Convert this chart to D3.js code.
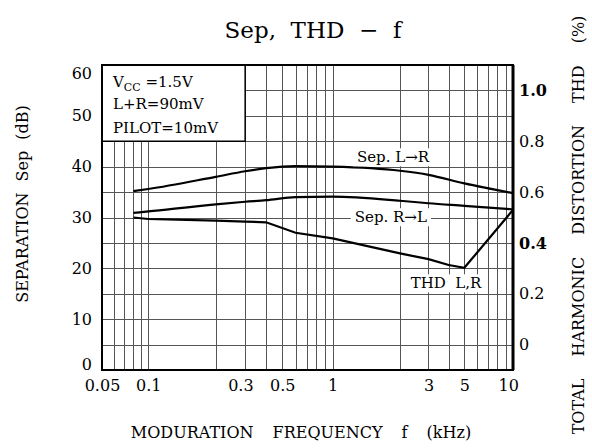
<!DOCTYPE html>
<html lang="en">
<head>
<meta charset="UTF-8">
<title>Sep, THD - f</title>
<script src="https://d3js.org/d3.v7.min.js"></script>
<style>
  body { margin: 0; background: #fff; }
  svg { display: block; font-family: "DejaVu Serif", serif; }
  .grid line { stroke: #555; stroke-width: 1; shape-rendering: crispEdges; }
  .grid path { display: none; }
  .curve { fill: none; stroke: #000; stroke-width: 2.2; }
  .axis path, .axis line { display: none; }
  .axis text { fill: #000; font-family: "DejaVu Serif", serif; font-size: 16px; }
</style>
</head>
<body>
<svg id="chart" width="592" height="448"></svg>
<script>
// modulation frequency, kHz
var sepFreq = [0.08, 0.1, 0.2, 0.3, 0.4, 0.6, 1, 2, 3, 5, 10];
// separation, dB
var sepLR = [35.2, 35.6, 38.0, 39.1, 39.7, 40.1, 40.0, 39.2, 38.4, 36.7, 34.8];
var sepRL = [30.9, 31.2, 32.6, 33.1, 33.4, 34.0, 34.1, 33.3, 32.8, 32.3, 31.6];
// THD, %
var thdFreq = [0.08, 0.1, 0.2, 0.3, 0.4, 0.6, 1, 2, 3, 4, 5, 10];
var thd = [0.50, 0.494, 0.488, 0.484, 0.481, 0.44, 0.418, 0.359, 0.336, 0.313, 0.302, 0.53];

var freqTicks = [0.05, 0.1, 0.3, 0.5, 1, 3, 5, 10];
var freqGrid = [0.06, 0.07, 0.08, 0.09, 0.1, 0.2, 0.3, 0.4, 0.5, 0.6, 0.7, 0.8, 0.9,
                1, 2, 3, 4, 5, 6, 7, 8, 9];
var sepTicks = [0, 10, 20, 30, 40, 50, 60];
var sepGrid = [5, 10, 15, 20, 25, 30, 35, 40, 45, 50, 55];
var thdTicks = [0, 0.2, 0.4, 0.6, 0.8, 1.0];

var curveLabels = [
  {text: "Sep. L\u2192R", f: 1.86, v: 41.9},
  {text: "Sep. R\u2192L", f: 1.82, v: 30.1},
  {text: "THD  L,R", f: 3.85, v: 17.1}
];

var margin = {top: 65, right: 79, bottom: 78, left: 102},
  width = 592 - margin.left - margin.right,
  height = 448 - margin.top - margin.bottom;

var svg = d3.select("#chart");

var g = svg.append("g")
  .attr("transform", "translate(" + margin.left + "," + margin.top + ")");

// the printed log paper is not evenly ruled, so the scale is piecewise
var x = d3.scaleLog()
  .domain([0.05, 0.1, 0.2, 1, 2, 10])
  .range([0, 0.1127, 0.2766, 0.5613, 0.7251, 1].map(function(p) { return p * width; }));

var y = d3.scaleLinear().domain([0, 60]).range([height, 0]);
// right axis: 0 % sits on 5 dB, 0.2 % per 10 dB
var yR = d3.scaleLinear().domain([-0.1, 1.1]).range([height, 0]);

// grid
g.append("g")
  .attr("class", "grid")
  .attr("transform", "translate(0," + height + ")")
  .call(d3.axisBottom(x).tickValues(freqGrid).tickSize(-height).tickFormat(""));

g.append("g")
  .attr("class", "grid")
  .call(d3.axisLeft(y).tickValues(sepGrid).tickSize(-width).tickFormat(""));

// conditions box (blank paper in the top left corner)
g.append("rect")
  .attr("x", x(0.05))
  .attr("y", y(60))
  .attr("width", x(0.3) - x(0.05))
  .attr("height", y(45) - y(60))
  .attr("fill", "#fff")
  .attr("stroke", "#000")
  .attr("stroke-width", 1.5);

var cond = g.append("text")
  .attr("x", 11)
  .attr("y", 22)
  .style("font-size", "15px");
cond.append("tspan").text("V");
cond.append("tspan").attr("dy", 4).style("font-size", "11px").text("CC");
cond.append("tspan").attr("dy", -4).text(" =1.5V");

g.append("text")
  .attr("x", 11).attr("y", 44)
  .style("font-size", "15px")
  .text("L+R=90mV");

g.append("text")
  .attr("x", 11).attr("y", 68)
  .style("font-size", "15px")
  .text("PILOT=10mV");

// curves
var sepLine = d3.line()
  .x(function(d) { return x(d[0]); })
  .y(function(d) { return y(d[1]); })
  .curve(d3.curveMonotoneX);

var thdLine = d3.line()
  .x(function(d) { return x(d[0]); })
  .y(function(d) { return yR(d[1]); });

g.append("path").attr("class", "curve").attr("d", sepLine(d3.zip(sepFreq, sepLR)));
g.append("path").attr("class", "curve").attr("d", sepLine(d3.zip(sepFreq, sepRL)));
g.append("path").attr("class", "curve").attr("d", thdLine(d3.zip(thdFreq, thd)));

// curve labels on white
curveLabels.forEach(function(d) {
  var lg = g.append("g");
  var t = lg.append("text")
    .attr("x", x(d.f))
    .attr("y", y(d.v))
    .attr("dy", "0.35em")
    .attr("text-anchor", "middle")
    .style("font-size", "15px")
    .style("white-space", "pre")
    .text(d.text);
  var b = t.node().getBBox();
  lg.insert("rect", "text")
    .attr("x", b.x - 4)
    .attr("y", b.y)
    .attr("width", b.width + 8)
    .attr("height", b.height)
    .attr("fill", "#fff");
});

// frame
g.append("rect")
  .attr("width", width)
  .attr("height", height)
  .attr("fill", "none")
  .attr("stroke", "#000")
  .attr("stroke-width", 2);
g.append("line")
  .attr("x1", width).attr("x2", width)
  .attr("y1", 0).attr("y2", height)
  .attr("stroke", "#000")
  .attr("stroke-width", 3);

// axes labels
g.append("g")
  .attr("class", "axis")
  .attr("transform", "translate(0," + height + ")")
  .call(d3.axisBottom(x).tickValues(freqTicks).tickSize(0).tickPadding(10)
    .tickFormat(function(d) { return d; }))
  .selectAll("text")
  .attr("dx", function(d) { return d === 0.3 ? "-0.3em" : d === 10 ? "-0.3em" : null; });

g.append("g")
  .attr("class", "axis")
  .call(d3.axisLeft(y).tickValues(sepTicks).tickSize(0).tickPadding(10))
  .selectAll("text")
  .attr("dy", function(d) { return d === 60 ? "0.85em" : d === 0 ? "-0.05em" : "0.32em"; });

g.append("g")
  .attr("class", "axis")
  .attr("transform", "translate(" + width + ",0)")
  .call(d3.axisRight(yR).tickValues(thdTicks).tickSize(0).tickPadding(6)
    .tickFormat(function(d) { return d === 0 ? "0" : d.toFixed(1); }))
  .selectAll("text")
  .style("font-weight", function(d) { return d === 1 || d === 0.4 ? "bold" : null; });

// titles
svg.append("text")
  .attr("x", 313)
  .attr("y", 38)
  .attr("text-anchor", "middle")
  .style("font-size", "23px")
  .style("white-space", "pre")
  .text("Sep,  THD  \u2212  f");

svg.append("text")
  .attr("x", 301)
  .attr("y", 438)
  .attr("text-anchor", "middle")
  .style("font-size", "16px")
  .style("word-spacing", "14px")
  .text("MODURATION FREQUENCY f (kHz)");

svg.append("text")
  .attr("transform", "translate(28,204) rotate(-90)")
  .attr("text-anchor", "middle")
  .style("font-size", "16px")
  .style("word-spacing", "6px")
  .text("SEPARATION Sep (dB)");

svg.append("text")
  .attr("transform", "translate(584,225) rotate(-90)")
  .attr("text-anchor", "middle")
  .style("font-size", "16px")
  .style("word-spacing", "17px")
  .text("TOTAL HARMONIC DISTORTION THD (%)");
</script>
</body>
</html>
